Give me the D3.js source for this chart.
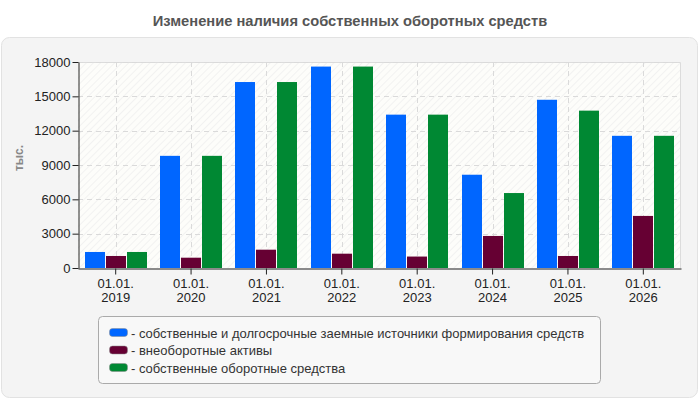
<!DOCTYPE html>
<html><head><meta charset="utf-8">
<script src="https://cdn.jsdelivr.net/npm/d3@7/dist/d3.min.js"></script>
<style>body{margin:0;background:#fff;}svg{display:block;font-family:Arial,"Liberation Sans",sans-serif;}</style>
</head><body>
<svg id="c" width="700" height="400"></svg>
<script>
const categories = ["01.01.|2019","01.01.|2020","01.01.|2021","01.01.|2022","01.01.|2023","01.01.|2024","01.01.|2025","01.01.|2026"];
const seriesNames = ["собственные и долгосрочные заемные источники формирования средств","внеоборотные активы","собственные оборотные средства"];
const seriesColors = ["#0066ff","#660033","#008833"];
const sources = [1400, 9800, 16250, 17600, 13400, 8150, 14700, 11550];
const nonCurrent = [1050, 900, 1600, 1250, 1000, 2800, 1050, 4550];
const ownCurrent = [1400, 9800, 16250, 17600, 13400, 6550, 13750, 11550];
const yTicks = [0,3000,6000,9000,12000,15000,18000];
const title = "Изменение наличия собственных оборотных средств";
const yLabel = "тыс.";

const series = [sources, nonCurrent, ownCurrent];
const svg = d3.select("#c");
const defs = svg.append("defs");
const pat = defs.append("pattern").attr("id","hatch").attr("patternUnits","userSpaceOnUse")
  .attr("width",5).attr("height",5).attr("patternTransform","rotate(45)");
pat.append("rect").attr("width",5).attr("height",5).attr("fill","#fdfdfa");
pat.append("line").attr("x1",0).attr("y1",0).attr("x2",0).attr("y2",5).attr("stroke","#efefef").attr("stroke-width",1.5);

svg.append("text").attr("x",350).attr("y",26).attr("text-anchor","middle")
  .attr("font-size",14.7).attr("font-weight","bold").attr("fill","#555").text(title);

svg.append("rect").attr("x",1.5).attr("y",37.5).attr("width",696).attr("height",360).attr("rx",8)
  .attr("fill","#f4f4f4").attr("stroke","#e2e2e2");

const L=78, R=681, T=62, B=268;
const x = d3.scaleBand().domain(categories).range([L,R]).padding(0);
const y = d3.scaleLinear().domain([0,18000]).range([B,T]);

svg.append("rect").attr("x",L).attr("y",T).attr("width",R-L).attr("height",B-T).attr("fill","url(#hatch)");
svg.append("path").attr("d",`M${L},${T+0.5}H${R-0.5}V${B}`).attr("fill","none").attr("stroke","#dcdcdc");

const g = svg.append("g");
yTicks.slice(1).forEach(t=>{
  g.append("line").attr("x1",L).attr("x2",R).attr("y1",Math.round(y(t))+0.5).attr("y2",Math.round(y(t))+0.5)
   .attr("stroke","#dadada").attr("stroke-dasharray","5,4");
});
categories.forEach(c=>{
  const cx = Math.round(x(c)+x.bandwidth()/2)+0.5;
  g.append("line").attr("x1",cx).attr("x2",cx).attr("y1",T).attr("y2",B)
   .attr("stroke","#dadada").attr("stroke-dasharray","5,4");
});

const bw = 20, gap = 1;
series.forEach((vals,si)=>{
  svg.append("g").selectAll("rect").data(vals).join("rect")
    .attr("x",(d,i)=>Math.round(x(categories[i])+x.bandwidth()/2 - (3*bw+2*gap)/2 + si*(bw+gap)))
    .attr("width",bw)
    .attr("y",d=>y(d)).attr("height",d=>B-y(d))
    .attr("fill",seriesColors[si]);
});

const ya = svg.append("g").attr("transform",`translate(${L+0.5},0)`)
  .call(d3.axisLeft(y).tickValues(yTicks).tickSize(6).tickSizeOuter(0).tickFormat(d3.format("d")));
ya.select(".domain").attr("stroke","#222");
ya.selectAll(".tick line").attr("stroke","#222");
ya.selectAll(".tick text").attr("font-size",13).attr("fill","#222").attr("font-family","Arial,'Liberation Sans',sans-serif").attr("x",-8);

const xa = svg.append("g").attr("transform",`translate(0,${B+0.5})`)
  .call(d3.axisBottom(x).tickSize(6).tickSizeOuter(0).tickFormat(""));
xa.select(".domain").attr("stroke","#222");
xa.selectAll(".tick line").attr("stroke","#222");
xa.selectAll(".tick").each(function(d){
  const parts = d.split("|");
  const t = d3.select(this).append("text").attr("fill","#222").attr("font-size",13)
    .attr("font-family","Arial,'Liberation Sans',sans-serif")
    .attr("text-anchor","middle").attr("y",19);
  t.append("tspan").attr("x",0).text(parts[0]);
  t.append("tspan").attr("x",0).attr("dy",14).text(parts[1]);
});

svg.append("text").attr("transform",`translate(23,158) rotate(-90)`).attr("text-anchor","middle")
  .attr("font-size",12).attr("font-weight","bold").attr("fill","#888").text(yLabel);

svg.append("rect").attr("x",98.5).attr("y",316.5).attr("width",502).attr("height",67).attr("rx",4)
  .attr("fill","#f8f8f8").attr("stroke","#aaa");
seriesNames.forEach((n,i)=>{
  const yy = 333 + i*17.5;
  svg.append("rect").attr("x",109.5).attr("y",yy-4.5).attr("width",18).attr("height",8).attr("rx",3)
    .attr("fill",seriesColors[i]).attr("stroke","#888").attr("stroke-width",0.5);
  svg.append("text").attr("x",131).attr("y",yy+4.5).attr("font-size",13).attr("fill","#333").text("- "+n);
});
</script>
</body></html>
